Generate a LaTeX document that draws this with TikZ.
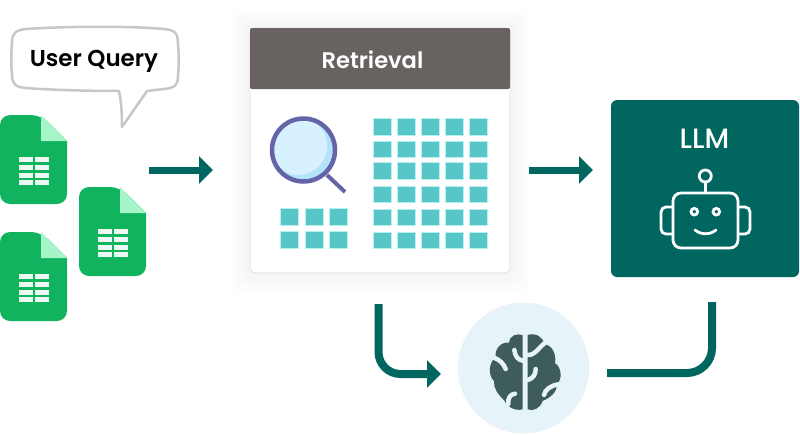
\documentclass[tikz,border=0pt]{standalone}
\usepackage{fontspec}
\setmainfont{Poppins}[BoldFont={Poppins SemiBold}]
\newfontfamily\mediumfont{Poppins Medium}
\usetikzlibrary{arrows.meta, positioning, calc}
\definecolor{tealdark}{HTML}{00665F}
\definecolor{sheetgreen}{HTML}{12B35F}
\definecolor{sheetfold}{HTML}{A5F5C9}
\definecolor{cellteal}{HTML}{58C6C8}
\definecolor{celledge}{HTML}{B4F2EE}
\definecolor{headgray}{HTML}{686361}
\definecolor{lensring}{HTML}{6464A8}
\definecolor{lensfill}{HTML}{D8F1FF}
\definecolor{lensdark}{HTML}{B5E3FB}
\definecolor{brainbg}{HTML}{E6F3F8}
\definecolor{braindark}{HTML}{3F5C5C}

\begin{document}
\begin{tikzpicture}[x=1pt, y=-1pt,
    % Flow arrows
    flowarrow/.style={draw=tealdark, line width=7pt, -{Triangle[length=14pt, width=27pt, fill=tealdark]}},
    flowline/.style={draw=tealdark, line width=8pt},
    % Cards and cells
    cell/.style={draw=celledge, line width=0.6pt, fill=cellteal, minimum width=18pt, minimum height=16.5pt, inner sep=0pt},
    card/.style={draw=black!14, line width=0.6pt, fill=white, rounded corners=6pt, minimum width=260pt, minimum height=245pt, inner sep=0pt},
    robotline/.style={draw=white, line width=2.8pt},
    sulcus/.style={draw=brainbg, line width=4.5pt, line cap=round},
    % Pic for a spreadsheet file
    pics/sheetfile/.style={code={
        \fill[sheetgreen] [rounded corners=10pt] (0,40) |- (41,0) [sharp corners] -- (67,26) [rounded corners=10pt] |- (0,89) -- cycle;
        \fill[sheetfold] (41,0) -- (67,26) -- (41,26) -- cycle;
        \foreach \y in {42,50,57.5,65}
            \foreach \x in {19,35}
                \fill[white!92!sheetgreen] (\x,\y) rectangle ++(14,5);
    }}]

\useasboundingbox (0,0) rectangle (800,434);

% Spreadsheet files
\pic (f1) at (0,115) {sheetfile};
\pic (f2) at (79,187) {sheetfile};
\pic (f3) at (0,232) {sheetfile};

% Speech bubble
\draw[draw=black!22, line width=2.5pt, fill=white, line join=round]
    (26,29) .. controls (70,26) and (130,26) .. (164,29)
    .. controls (175,30) and (178,33) .. (178,44)
    .. controls (179,55) and (179,65) .. (178,76)
    .. controls (178,85) and (175,88) .. (164,89)
    -- (147,91) -- (122,127) .. controls (122,112) and (121,100) .. (119,91)
    .. controls (90,91) and (50,90) .. (26,88)
    .. controls (15,87) and (12,84) .. (12,74)
    .. controls (11,65) and (11,55) .. (12,42)
    .. controls (12,33) and (16,30) .. (26,29) -- cycle;
\node[font=\fontsize{23}{25}\selectfont\bfseries, inner sep=0pt] (query) at (94,61) {User Query};

% Retrieval card, soft shadow first
\foreach \r in {2,4,...,20}
    \fill[black, opacity=0.005, rounded corners=8pt] (250-\r,28-\r) rectangle (510+\r,273+\r);
\node[card] (ret) at (380,150.5) {};
\node[fill=headgray, rounded corners=2pt, minimum width=260pt, minimum height=61pt, inner sep=0pt] (rethead) at (380,58.5) {};
\node[font=\fontsize{22.6}{25}\selectfont\bfseries, text=white, inner sep=0pt] (rettitle) at (372.5,60) {Retrieval};

% Magnifier
\draw[lensring, line width=4pt] (327,175) -- (345,192);
\begin{scope}
    \clip (303.5,150) circle[radius=31];
    \fill[lensdark] (303.5,150) circle[radius=31];
    \fill[lensfill] (298,146) circle[radius=29];
\end{scope}
\draw[lensring, line width=4.5pt] (303.5,150) circle[radius=31.5];

% Small and large cell grids
\foreach \x [count=\i] in {289.5,314,338}
    \foreach \y [count=\j] in {216.7,240}
        \node[cell] (s\i\j) at (\x,\y) {};
\foreach \x [count=\i] in {382,406.3,430.3,454.6,478.7}
    \foreach \y [count=\j] in {126.8,149.2,170.8,194.2,217.2,240.2}
        \node[cell] (b\i\j) at (\x,\y) {};

% LLM box
\node[fill=tealdark, rounded corners=6pt, minimum width=188pt, minimum height=177pt, inner sep=0pt] (llm) at (705,188.5) {};
\node[font=\fontsize{28}{30}\selectfont\mediumfont, text=white, inner sep=0pt] (llmtitle) at (704.5,139) {LLM};

% Robot
\draw[robotline, rounded corners=8pt] (673,193) rectangle (738,248);
\draw[robotline] (705.3,182) -- (705.3,193);
\draw[robotline] (705.3,176) circle[radius=6];
\draw[robotline] (694.3,211.7) circle[radius=3.3];
\draw[robotline] (716.3,211.7) circle[radius=3.3];
\draw[robotline, line cap=round] (695,230) .. controls (701,235) and (710,235) .. (716,230);
\draw[robotline, rounded corners=5pt] (673,207) -- (661,207) -- (661,234) -- (673,234);
\draw[robotline, rounded corners=5pt] (738,207) -- (750,207) -- (750,234) -- (738,234);

% Brain
\node[circle, fill=brainbg, minimum size=131pt, inner sep=0pt] (brain) at (523.5,368) {};
\begin{scope}[shift={(360,295)}, scale=1/3]
    \fill[braindark] (488,120) .. controls (470,115) and (450,120) .. (447,143)
        .. controls (425,140) and (403,160) .. (407,188)
        .. controls (388,198) and (382,240) .. (402,258)
        .. controls (400,280) and (415,300) .. (432,315)
        .. controls (438,330) and (460,350) .. (488,343) -- cycle;
    \fill[braindark] (503,120) .. controls (525,112) and (550,125) .. (553,148)
        .. controls (575,150) and (590,175) .. (585,205)
        .. controls (605,215) and (608,255) .. (590,268)
        .. controls (592,295) and (565,310) .. (548,318)
        .. controls (540,340) and (520,350) .. (503,343) -- cycle;
    \draw[sulcus] (402,188) .. controls (420,195) and (430,205) .. (437,222);
    \draw[sulcus] (463,165) .. controls (465,185) and (475,195) .. (488,197);
    \draw[sulcus] (465,296) .. controls (450,298) and (443,310) .. (445,327);
    \draw[sulcus] (503,180) .. controls (525,180) and (530,165) .. (553,145);
    \draw[sulcus] (503,255) .. controls (520,250) and (527,238) .. (527,222);
    \draw[sulcus] (595,268) .. controls (570,272) and (555,285) .. (552,300);
\end{scope}

% Free ends of the flow arrows
\coordinate (fa1) at (149,170);
\coordinate (fb1) at (213,170);
\coordinate (fa2) at (529,170);
\coordinate (fb2) at (593,170);
\coordinate (fa3) at (378.5,304);
\coordinate (fb3) at (441,374);
\coordinate (fa4) at (712,302);
\coordinate (fb4) at (607,373);

\draw[flowarrow] (fa1) -- (fb1);
\draw[flowarrow] (fa2) -- (fb2);
\draw[flowarrow, line width=8pt, rounded corners=22pt] (fa3) |- (fb3);
\draw[flowline, rounded corners=25pt] (fa4) |- (fb4);

\end{tikzpicture}
\end{document}
